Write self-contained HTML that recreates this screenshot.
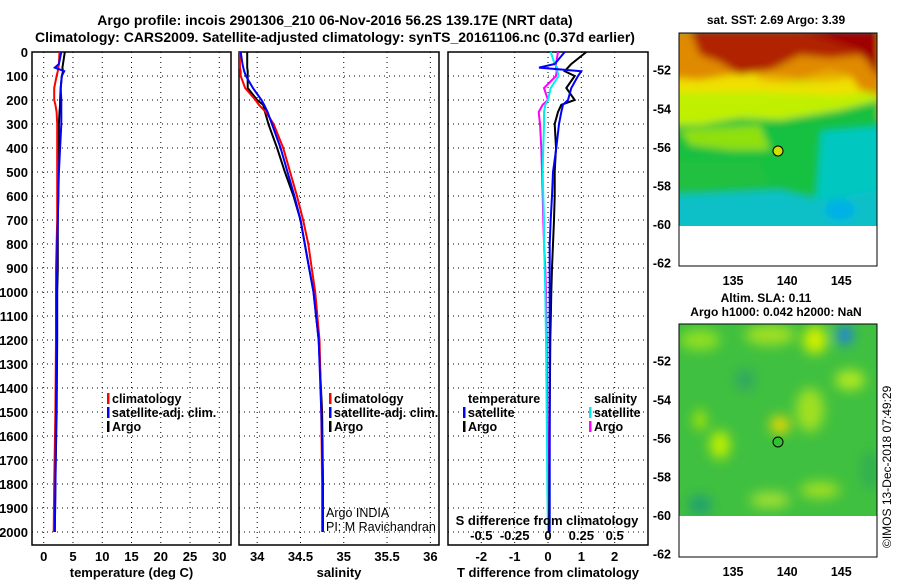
<!DOCTYPE html>
<html><head><meta charset="utf-8"><style>
html,body{margin:0;padding:0;background:#fff;}
svg{display:block;font-family:"Liberation Sans",sans-serif;font-weight:bold;}
</style></head><body>
<svg id="fig" width="900" height="580" viewBox="0 0 900 580" xmlns="http://www.w3.org/2000/svg">
<defs>
<filter id="blur1" x="-20%" y="-20%" width="140%" height="140%"><feGaussianBlur stdDeviation="4"/></filter>
<filter id="blur2" x="-20%" y="-20%" width="140%" height="140%"><feGaussianBlur stdDeviation="6"/></filter>
<clipPath id="clipM1"><rect x="679" y="33" width="198" height="193"/></clipPath>
<clipPath id="clipM2"><rect x="679" y="324" width="198" height="192"/></clipPath>
</defs>
<text x="335" y="25" font-size="14" text-anchor="middle">Argo profile: incois 2901306_210 06-Nov-2016 56.2S 139.17E (NRT data)</text>
<text x="335" y="42" font-size="14" text-anchor="middle">Climatology: CARS2009. Satellite-adjusted climatology: synTS_20161106.nc (0.37d earlier)</text>
<g id="plots"></g>
<g>
<text x="776" y="24" font-size="12" text-anchor="middle">sat. SST: 2.69 Argo: 3.39</text>
<g clip-path="url(#clipM1)">
<rect x="679" y="33" width="198" height="193" fill="#00c8c0"/>
<g filter="url(#blur1)">
<rect x="670" y="30" width="220" height="90" fill="#e8b000"/>
<path d="M670 110 L800 110 L880 100 L880 125 L820 130 L815 200 L670 200 Z" fill="#18c040"/>
<path d="M670 195 L780 190 L820 200 L880 190 L880 240 L670 240Z" fill="#10c0c8"/>
<path d="M670 160 L760 160 L770 185 L700 190 L670 190Z" fill="#20c040"/>
<path d="M670 85 L880 80 L880 100 L840 110 L780 120 L740 118 L700 125 L670 125Z" fill="#c0f000"/>
<path d="M680 130 L760 125 L770 150 L730 150 L690 145Z" fill="#90e010"/>
<path d="M670 55 L740 60 L760 80 L800 85 L840 80 L880 70 L880 90 L840 95 L760 92 L700 92 L670 92Z" fill="#f0e000"/>
<path d="M670 30 L880 30 L880 95 L860 90 L850 75 L830 70 L800 78 L760 72 L730 75 L700 80 L670 78Z" fill="#e08a00"/>
<path d="M690 30 L880 30 L880 70 L860 55 L830 58 L800 55 L770 70 L740 75 L720 62 L700 55Z" fill="#b02000"/>
<path d="M800 30 L880 30 L880 80 L860 50Z" fill="#a00000"/>
<ellipse cx="840" cy="210" rx="15" ry="10" fill="#00b0e8"/>
</g>
</g>
<rect x="679" y="226" width="198" height="40" fill="#fff"/>
<rect x="679" y="33" width="198" height="233" fill="none" stroke="#000" stroke-width="1"/>
<circle cx="778" cy="151" r="5" fill="#d0e000" stroke="#000"/>
</g>
<g>
<text x="766" y="302" font-size="12" text-anchor="middle">Altim. SLA: 0.11</text>
<text x="776" y="316" font-size="12" text-anchor="middle">Argo h1000: 0.042 h2000: NaN</text>
<g clip-path="url(#clipM2)">
<rect x="679" y="324" width="198" height="192" fill="#40c040"/>
<g filter="url(#blur2)">
<ellipse cx="700" cy="340" rx="20" ry="10" fill="#90e020"/>
<ellipse cx="770" cy="335" rx="25" ry="10" fill="#a0e020"/>
<ellipse cx="815" cy="340" rx="12" ry="14" fill="#d0f000"/>
<ellipse cx="845" cy="335" rx="8" ry="10" fill="#2080e0"/>
<ellipse cx="780" cy="425" rx="10" ry="9" fill="#e8d800"/>
<ellipse cx="720" cy="445" rx="10" ry="14" fill="#c0f000"/>
<ellipse cx="700" cy="420" rx="6" ry="10" fill="#b0e800"/>
<ellipse cx="810" cy="410" rx="14" ry="22" fill="#a0e020"/>
<ellipse cx="850" cy="380" rx="15" ry="10" fill="#b0e820"/>
<ellipse cx="820" cy="490" rx="20" ry="8" fill="#a0e020"/>
<ellipse cx="770" cy="500" rx="20" ry="8" fill="#a0e030"/>
<ellipse cx="700" cy="505" rx="12" ry="10" fill="#20a070"/>
<ellipse cx="870" cy="470" rx="10" ry="20" fill="#30b050"/>
<ellipse cx="745" cy="380" rx="10" ry="12" fill="#30a860"/>
</g>
</g>
<rect x="679" y="516" width="198" height="41" fill="#fff"/>
<rect x="679" y="324" width="198" height="233" fill="none" stroke="#000" stroke-width="1"/>
<circle cx="778" cy="442" r="5" fill="#30c030" stroke="#000"/>
</g>
<text x="891" y="548" font-size="12" font-weight="normal" transform="rotate(-90 891 548)">©IMOS 13-Dec-2018 07:49:29</text>
</svg>
<script>
// ---- data ----
const depths = [0,50,65,80,100,150,200,220,250,300,400,500,600,700,800,900,1000,1200,1500,1800,2000];
const tempArgo = [3.6,3.3,3.2,3.3,3.1,2.9,2.8,2.8,2.7,2.6,2.6,2.5,2.5,2.4,2.4,2.4,2.3,2.3,2.2,2.0,1.9];
const tempClim = [2.7,2.6,2.5,2.4,2.2,1.8,1.8,2.0,2.2,2.3,2.3,2.3,2.3,2.3,2.2,2.1,2.1,2.1,2.0,1.8,1.7];
const tempSat  = [3.0,2.6,1.9,3.5,3.1,2.9,3.0,3.0,3.0,3.0,2.8,2.6,2.5,2.4,2.3,2.3,2.2,2.2,2.1,2.0,1.9];
const salArgo = [33.885,33.885,33.885,33.89,33.89,33.89,34.0,34.07,34.09,34.13,34.23,34.32,34.42,34.5,34.55,34.6,34.65,34.71,34.75,34.76,34.76];
const salClim = [33.80,33.80,33.80,33.81,33.81,33.86,33.98,34.02,34.1,34.19,34.3,34.38,34.46,34.53,34.59,34.63,34.67,34.72,34.74,34.75,34.75];
const salSat  = [33.81,33.83,33.84,33.85,33.87,33.95,34.05,34.08,34.12,34.17,34.27,34.35,34.43,34.5,34.55,34.6,34.65,34.71,34.74,34.76,34.76];
const dTArgo = [1.15,0.7,0.6,0.5,0.8,0.55,0.8,0.4,0.3,0.2,0.24,0.2,0.2,0.18,0.15,0.12,0.1,0.07,0.05,0.04,0.03];
const dTSat  = [0.5,0.2,-0.27,1.0,0.9,0.7,0.6,0.45,0.4,0.33,0.25,0.15,0.12,0.08,0.05,0.05,0.05,0.05,0.05,0.05,0.05];
const dSArgo = [0.075,0.06,0.06,0.065,0.06,-0.03,0.0,-0.04,-0.07,-0.06,-0.05,-0.045,-0.04,-0.035,-0.03,-0.02,-0.015,-0.01,-0.005,0,0];
const dSSat  = [0.02,0.05,0.07,0.07,0.08,0.02,0.0,-0.02,-0.03,-0.03,-0.035,-0.04,-0.035,-0.03,-0.03,-0.025,-0.02,-0.015,-0.01,-0.005,0];
const depthTicks = [0,100,200,300,400,500,600,700,800,900,1000,1100,1200,1300,1400,1500,1600,1700,1800,1900,2000];
const tempTicks = [0,5,10,15,20,25,30];
const salTicks = [34,34.5,35,35.5,36];
const salTickLabels = ["34","34.5","35","35.5","36"];
const dTTicks = [-2,-1,0,1,2];
const dSTicks = [-0.5,-0.25,0,0.25,0.5];
const dSTickLabels = ["-0.5","-0.25","0","0.25","0.5"];
const latTicks = [-52,-54,-56,-58,-60,-62];
const lonTicks = [135,140,145];

const NS="http://www.w3.org/2000/svg";
const root=document.getElementById('plots');
function mk(tag,attrs,parent){const e=document.createElementNS(NS,tag);for(const k in attrs)e.setAttribute(k,attrs[k]);(parent||root).appendChild(e);return e;}
function txt(s,x,y,anchor,size,parent,weight){const t=mk('text',{x:x,y:y,'text-anchor':anchor||'middle','font-size':size||13},parent);if(weight)t.setAttribute('font-weight',weight);t.textContent=s;return t;}
const yTop=52, yBot=545;
const yD=d=>yTop+d*0.24;

function panel(name,x0,x1,xmin,xmax,ticks,labels,title){
  const g=mk('g',{});
  
  
  const sx=v=>x0+(v-xmin)/(xmax-xmin)*(x1-x0);
  depthTicks.forEach(d=>{const l=mk('line',{x1:x0,x2:x1,y1:yD(d),y2:yD(d),stroke:'#000','stroke-dasharray':'1,4','stroke-width':1},g);
    });
  ticks.forEach((t,i)=>{const l=mk('line',{x1:sx(t),x2:sx(t),y1:yTop,y2:yBot,stroke:'#000','stroke-dasharray':'1,4','stroke-width':1},g);
    
    const tl=txt(labels[i],sx(t),561,'middle',13,g);
    });
  const f=mk('rect',{x:x0,y:yTop,width:x1-x0,height:yBot-yTop,fill:'none',stroke:'#000','stroke-width':1.5},g);
  
  const at=txt(title,(x0+x1)/2,577,'middle',13,g);
  
  return {g,sx};
}
function series(p,vals,color,name,w){
  let d='';vals.forEach((v,i)=>{d+=(i?'L':'M')+p.sx(v).toFixed(1)+' '+yD(depths[i]).toFixed(1);});
  const e=mk('path',{d:d,fill:'none',stroke:color,'stroke-width':w||2},p.g);
  
  
}
function legend(g,x,y,color,label,name){
  const r=mk('rect',{x:x-5,y:y-10,width:2.5,height:11,fill:color},g);
  
  const t=txt(label,x,y,'start',12.5,g);
  
}

depthTicks.forEach(d=>{const t=txt(String(d),28,yD(d)+5,'end',13);
  });

const p1=panel('temperature-panel',32,231,-2,32,tempTicks,tempTicks.map(String),'temperature (deg C)');
series(p1,tempArgo,'#000','temp-argo-line');
series(p1,tempClim,'#f00','temp-climatology-line');
series(p1,tempSat,'#00f','temp-satellite-line');
legend(p1.g,112,403,'#f00','climatology','legend-climatology');
legend(p1.g,112,417,'#00f','satellite-adj. clim.','legend-satellite');
legend(p1.g,112,431,'#000','Argo','legend-argo');

const p2=panel('salinity-panel',239,439,33.79,36.1,salTicks,salTickLabels,'salinity');
series(p2,salArgo,'#000','sal-argo-line');
series(p2,salClim,'#f00','sal-climatology-line');
series(p2,salSat,'#00f','sal-satellite-line');
legend(p2.g,334,403,'#f00','climatology','legend-climatology');
legend(p2.g,334,417,'#00f','satellite-adj. clim.','legend-satellite');
legend(p2.g,334,431,'#000','Argo','legend-argo');
const a1=txt('Argo INDIA',326,517,'start',12.5,p2.g,'normal');
const a2=txt('PI: M Ravichandran',326,531,'start',12.5,p2.g,'normal');

const p3=panel('difference-panel',448,648,-3,3,dTTicks,dTTicks.map(String),'T difference from climatology');
const sxS=v=>p3.sx(v*4);
const pS={g:p3.g,sx:v=>p3.sx(v*4)};
series(pS,dSArgo,'#f0f','sal-diff-argo-line');
series(pS,dSSat,'#0ee','sal-diff-satellite-line');
series(p3,dTArgo,'#000','temp-diff-argo-line');
series(p3,dTSat,'#00f','temp-diff-satellite-line');
const lt=txt('temperature',468,403,'start',12.5,p3.g);
legend(p3.g,468,417,'#00f','satellite','legend-temp-satellite');
legend(p3.g,468,431,'#000','Argo','legend-temp-argo');
const ls=txt('salinity',594,403,'start',12.5,p3.g);
legend(p3.g,594,417,'#0ee','satellite','legend-sal-satellite');
legend(p3.g,594,431,'#f0f','Argo','legend-sal-argo');
const sdt=txt('S difference from climatology',547,525,'middle',13,p3.g);
dSTicks.forEach((t,i)=>{const e=txt(dSTickLabels[i],sxS(t),540,'middle',13,p3.g);});

function mapAxes(name,yTopM,yBotM){
  const g=mk('g',{});
  
  const ly=lat=>yTopM+(-50.1-lat)*19.3;
  const lx=lon=>679+(lon-130)*10.82;
  latTicks.forEach(l=>{
    mk('line',{x1:679,x2:683,y1:ly(l),y2:ly(l),stroke:'#000'},g);
    mk('line',{x1:873,x2:877,y1:ly(l),y2:ly(l),stroke:'#000'},g);
    const t=txt(String(l),671,ly(l)+5,'end',12.5,g);});
  lonTicks.forEach(l=>{
    mk('line',{x1:lx(l),x2:lx(l),y1:yBotM-4,y2:yBotM,stroke:'#000'},g);
    mk('line',{x1:lx(l),x2:lx(l),y1:yTopM,y2:yTopM+4,stroke:'#000'},g);
    const t=txt(String(l),lx(l),yBotM+19,'middle',12.5,g);});
}
mapAxes('sst-map-axes',33,266);
mapAxes('sla-map-axes',324,557);
</script>
</body></html>
